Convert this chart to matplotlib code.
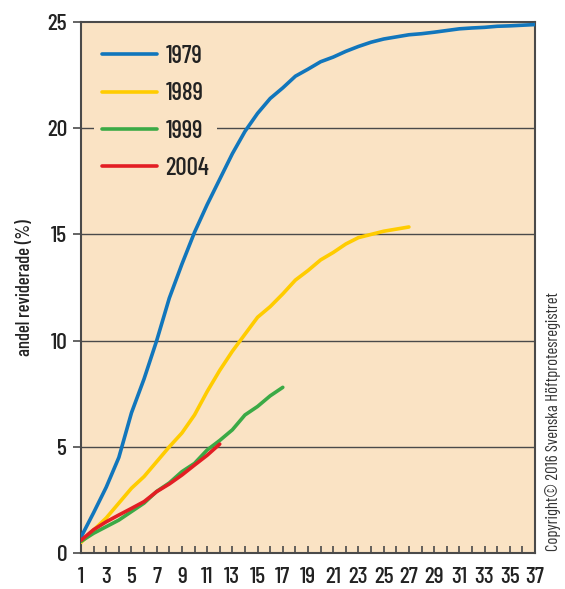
import matplotlib
matplotlib.use("Agg")
import matplotlib.pyplot as plt
from matplotlib.ticker import MultipleLocator

plt.rcParams['font.family'] = ['Barlow Condensed', 'DejaVu Sans']

years_1979 = list(range(1, 38))
vals_1979 = [0.75, 1.9, 3.1, 4.5, 6.6, 8.2, 10.0, 12.0, 13.6, 15.1, 16.4, 17.6, 18.8, 19.85,
             20.7, 21.4, 21.9, 22.45, 22.78, 23.13, 23.35, 23.62, 23.85, 24.05, 24.2, 24.3,
             24.4, 24.45, 24.52, 24.6, 24.68, 24.72, 24.75, 24.8, 24.82, 24.85, 24.88]
years_1989 = list(range(1, 28))
vals_1989 = [0.5, 1.08, 1.65, 2.35, 3.05, 3.6, 4.3, 5.0, 5.65, 6.5, 7.6, 8.6, 9.5, 10.3,
             11.1, 11.6, 12.2, 12.85, 13.3, 13.8, 14.15, 14.55, 14.85, 15.0, 15.15, 15.25, 15.35]
years_1999 = list(range(1, 18))
vals_1999 = [0.55, 0.93, 1.24, 1.55, 1.95, 2.35, 2.9, 3.3, 3.83, 4.22, 4.85, 5.3, 5.8, 6.5,
             6.9, 7.4, 7.8]
years_2004 = list(range(1, 13))
vals_2004 = [0.6, 1.1, 1.47, 1.79, 2.1, 2.42, 2.89, 3.25, 3.67, 4.14, 4.6, 5.13]

labels = ['1979', '1989', '1999', '2004']
colors = ['#1176BC', '#FFCC00', '#3BAA46', '#E31E24']
ylabel = 'andel reviderade (%)'
copyright_text = 'Copyright\u00a9 2016 Svenska H\u00f6ftprotesregistret'

bg = '#FAE3C4'
dark = '#4a4a4a'
tc = '#222222'

fig = plt.figure(figsize=(5.65, 5.89), dpi=100)
ax = fig.add_axes([0.1434, 0.0611, 0.8035, 0.9015])
ax.set_facecolor(bg)

series = [(years_1979, vals_1979), (years_1989, vals_1989),
          (years_1999, vals_1999), (years_2004, vals_2004)]
for (xs, ys), lab, c in zip(series, labels, colors):
    ax.plot(xs, ys, color=c, lw=2.6, label=lab, solid_capstyle='round', zorder=3)

ax.set_xlim(1, 37)
ax.set_ylim(0, 25)
ax.set_xticks(range(1, 38, 2))
ax.xaxis.set_minor_locator(MultipleLocator(1))
ax.yaxis.set_major_locator(MultipleLocator(5))
for y in [5, 10, 15, 20]:
    ax.axhline(y, color=dark, lw=1.0, zorder=1)

ax.tick_params(axis='x', which='both', direction='in', length=5, width=1.2, color=dark,
               labelsize=17, pad=10, labelcolor=tc)
ax.tick_params(axis='y', which='major', direction='out', length=6, width=1.2, color=dark,
               labelsize=17, pad=4, labelcolor=tc)
for lbl in ax.get_xticklabels() + ax.get_yticklabels():
    lbl.set_fontweight('medium')
for s in ax.spines.values():
    s.set_color(dark)
    s.set_linewidth(1.5)

ax.set_ylabel(ylabel, fontsize=13.5, color=tc, labelpad=9, fontweight='medium')

leg = ax.legend(loc='upper left', bbox_to_anchor=(0.018, 0.98), frameon=True,
                prop={'size': 18, 'weight': 'medium'}, handlelength=2.2, handletextpad=0.35,
                labelspacing=0.57, borderpad=0.3, borderaxespad=0.2)
leg.get_frame().set_facecolor(bg)
leg.get_frame().set_edgecolor('none')
leg.get_frame().set_alpha(1)
leg.set_zorder(2)
for t in leg.get_texts():
    t.set_color(tc)

fig.text(0.978, 0.065, copyright_text, rotation=90, fontsize=12, color='#333333',
         ha='center', va='bottom')

fig.savefig('out.png', dpi=100)
